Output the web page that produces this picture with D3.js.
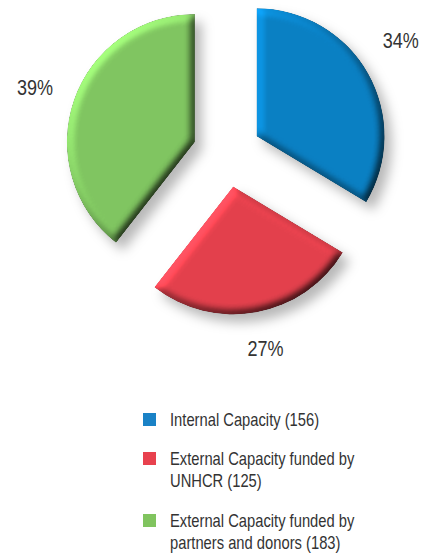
<!DOCTYPE html>
<html><head><meta charset="utf-8">
<script src="https://cdn.jsdelivr.net/npm/d3@7"></script>
<style>html,body{margin:0;padding:0;background:#fff;}svg{display:block;}</style>
</head><body>
<script>
const categories = ["Internal Capacity", "External Capacity funded by UNHCR", "External Capacity funded by partners and donors"];
const values = [156, 125, 183];
const percentLabels = ["34%", "27%", "39%"];
const legendLines = [["Internal Capacity (156)"], ["External Capacity funded by", "UNHCR (125)"], ["External Capacity funded by", "partners and donors (183)"]];
const colors = ["#0a7fc2", "#e2404c", "#7fc460"];
const legendColors = ["#1a82c6", "#e8414e", "#80c45f"];

// layout (not data)
const W = 427, H = 553;
const cx = 227, cy = 153, R = 128, explode = 34;
const FONT = "'Liberation Sans', Arial, sans-serif";
const NARROW = 0.82;
const labelAngleShift = [-3.4, -0.7, -0.1];
const labelRadius = [207, 199, 203];

const svg = d3.select("body").append("svg").attr("width", W).attr("height", H);
const defs = svg.append("defs");
const f = defs.append("filter").attr("id", "bevel")
  .attr("x", "-20%").attr("y", "-20%").attr("width", "150%").attr("height", "150%")
  .attr("color-interpolation-filters", "sRGB");
f.append("feGaussianBlur").attr("in", "SourceAlpha").attr("stdDeviation", 4).attr("result", "blur");
const dl = f.append("feDiffuseLighting").attr("in", "blur").attr("surfaceScale", 5)
  .attr("diffuseConstant", 1).attr("lighting-color", "white").attr("result", "light");
dl.append("feDistantLight").attr("azimuth", 225).attr("elevation", 45);
f.append("feComposite").attr("in", "SourceGraphic").attr("in2", "light").attr("operator", "arithmetic")
  .attr("k1", 1.0).attr("k2", 0.3).attr("k3", 0).attr("k4", 0).attr("result", "lit");
f.append("feComposite").attr("in", "lit").attr("in2", "SourceAlpha").attr("operator", "in").attr("result", "litClip");
f.append("feGaussianBlur").attr("in", "SourceAlpha").attr("stdDeviation", 6).attr("result", "sb");
f.append("feOffset").attr("in", "sb").attr("dx", 7).attr("dy", 8).attr("result", "so");
f.append("feFlood").attr("flood-color", "#000").attr("flood-opacity", 0.28).attr("result", "fl");
f.append("feComposite").attr("in", "fl").attr("in2", "so").attr("operator", "in").attr("result", "shadow");
const m = f.append("feMerge");
m.append("feMergeNode").attr("in", "shadow");
m.append("feMergeNode").attr("in", "litClip");

const pie = d3.pie().sort(null).value(d => d);
const arcs = pie(values);
const arc = d3.arc().innerRadius(0).outerRadius(R);

const g = svg.append("g").attr("transform", `translate(${cx},${cy})`);
g.selectAll("path.slice").data(arcs).enter().append("path")
  .attr("class", "slice")
  .attr("d", arc)
  .attr("fill", (d, i) => colors[i])
  .attr("filter", "url(#bevel)")
  .attr("transform", d => {
    const a = (d.startAngle + d.endAngle) / 2;
    return `translate(${Math.sin(a) * explode},${-Math.cos(a) * explode})`;
  });

g.selectAll("text.pct").data(arcs).enter().append("text")
  .attr("class", "pct")
  .attr("transform", (d, i) => {
    const a = (d.startAngle + d.endAngle) / 2 + labelAngleShift[i] * Math.PI / 180;
    const r = labelRadius[i];
    return `translate(${Math.sin(a) * r},${-Math.cos(a) * r}) scale(${NARROW},1)`;
  })
  .attr("text-anchor", "middle").attr("dominant-baseline", "central")
  .attr("font-family", FONT).attr("font-size", 22).attr("fill", "#333")
  .text((d, i) => percentLabels[i]);

const rowBase = [426, 465, 527];
const leg = svg.append("g");
legendLines.forEach((lines, i) => {
  leg.append("rect").attr("x", 143).attr("y", rowBase[i] - 13).attr("width", 13).attr("height", 13)
    .attr("fill", legendColors[i]);
  const t = leg.append("text").attr("transform", `translate(170,${rowBase[i]}) scale(${NARROW},1)`)
    .attr("font-family", FONT).attr("font-size", 18).attr("fill", "#333");
  lines.forEach((ln, j) => {
    t.append("tspan").attr("x", 0).attr("dy", j === 0 ? 0 : 22).text(ln);
  });
});
</script>
</body></html>
